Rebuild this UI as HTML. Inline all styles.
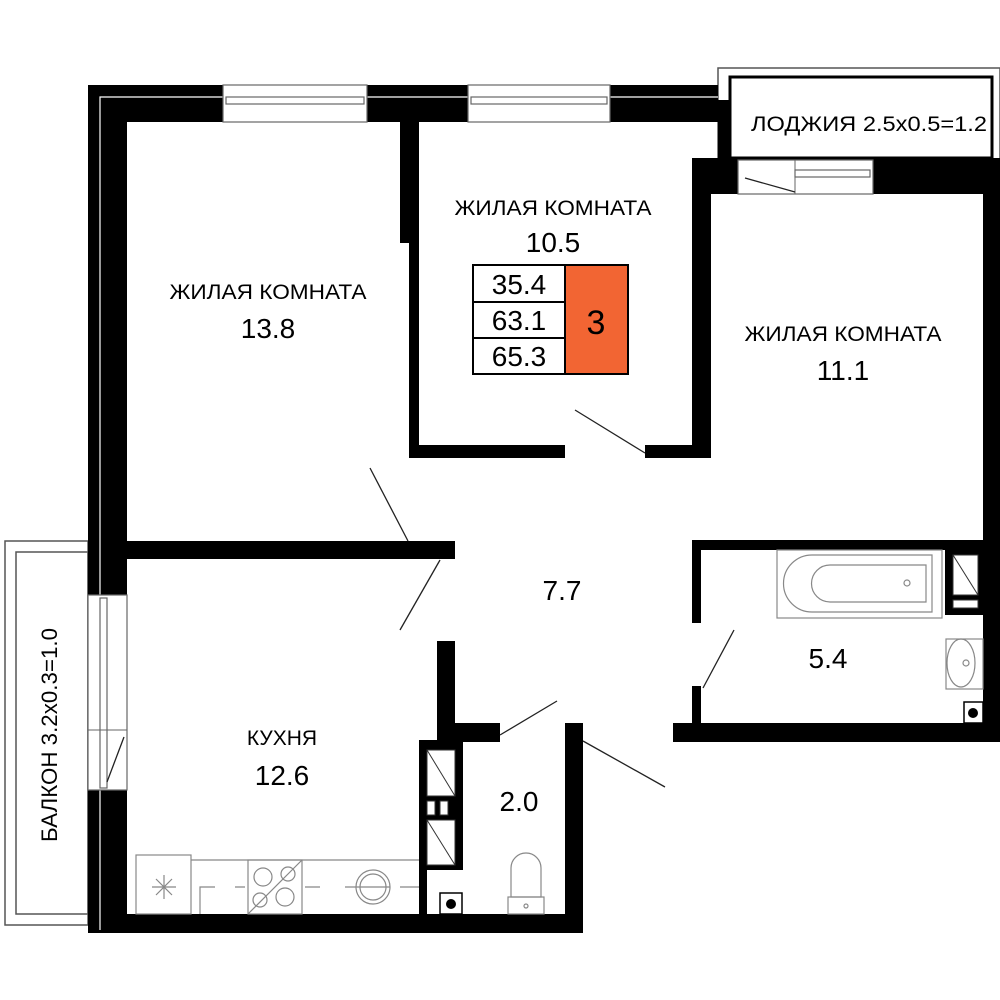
<!DOCTYPE html>
<html><head><meta charset="utf-8"><style>html,body{margin:0;padding:0;background:#fff}svg{display:block}</style></head>
<body>
<svg width="1000" height="1000" viewBox="0 0 1000 1000" xmlns="http://www.w3.org/2000/svg" font-family="Liberation Sans, sans-serif">
<rect width="1000" height="1000" fill="#fff"/>
<!-- loggia -->
<rect x="718" y="68" width="282" height="92" fill="none" stroke="#555" stroke-width="1.5"/>
<rect x="730" y="77" width="262" height="81" fill="none" stroke="#000" stroke-width="3"/>
<text x="869" y="131" font-size="21" text-anchor="middle" textLength="236" lengthAdjust="spacingAndGlyphs">ЛОДЖИЯ 2.5x0.5=1.2</text>
<!-- balcony -->
<rect x="5" y="541" width="83" height="384" fill="none" stroke="#555" stroke-width="1.5"/>
<rect x="16" y="552" width="72" height="362" fill="none" stroke="#555" stroke-width="1.5"/>
<text transform="translate(57,735) rotate(-90)" font-size="22" text-anchor="middle" textLength="214" lengthAdjust="spacingAndGlyphs">БАЛКОН 3.2x0.3=1.0</text>
<g fill="#000">
<rect x="88" y="85" width="135" height="37"/>
<rect x="367" y="85" width="101" height="37"/>
<rect x="610" y="85" width="108" height="37"/>
<rect x="718" y="100" width="12" height="94"/>
<rect x="692" y="158" width="46" height="36"/>
<rect x="873" y="158" width="127" height="36"/>
<rect x="88" y="85" width="39" height="510"/>
<rect x="88" y="790" width="39" height="143"/>
<rect x="400" y="122" width="19" height="121"/>
<rect x="409" y="122" width="10" height="336"/>
<rect x="409" y="445" width="156" height="13"/>
<rect x="645" y="445" width="66" height="13"/>
<rect x="692" y="190" width="19" height="268"/>
<rect x="983" y="172" width="17" height="570"/>
<rect x="127" y="541" width="328" height="18"/>
<rect x="692" y="540" width="308" height="10"/>
<rect x="692" y="540" width="9" height="83"/>
<rect x="692" y="686" width="9" height="40"/>
<rect x="673" y="723" width="327" height="19"/>
<rect x="437" y="641" width="18" height="100"/>
<rect x="437" y="723" width="63" height="19"/>
<rect x="565" y="723" width="18" height="210"/>
<rect x="419" y="740" width="44" height="130"/>
<rect x="419" y="740" width="8" height="193"/>
<rect x="88" y="914" width="495" height="19"/>
<rect x="945" y="550" width="40" height="65"/>
</g>
<path d="M100 930 V97 H718" fill="none" stroke="#fff" stroke-width="1.2"/>
<g fill="#fff" stroke="#666" stroke-width="1.2">
<rect x="223" y="85" width="144" height="37"/>
<rect x="226" y="97" width="138" height="7"/>
<rect x="468" y="85" width="142" height="37"/>
<rect x="471" y="97" width="136" height="7"/>
<rect x="738" y="160" width="135" height="34"/>
<rect x="795" y="170" width="75" height="7"/>
<rect x="88" y="595" width="39" height="195"/>
<rect x="100" y="598" width="7" height="190"/>
</g>
<line x1="795" y1="160" x2="795" y2="194" stroke="#666" stroke-width="1"/>
<line x1="88" y1="730" x2="127" y2="730" stroke="#666" stroke-width="1"/>
<g fill="#fff" stroke="#333" stroke-width="1">
<rect x="427" y="750" width="28" height="46"/>
<rect x="427" y="801" width="8" height="14"/>
<rect x="440" y="801" width="8" height="14"/>
<rect x="427" y="820" width="28" height="45"/>
<rect x="953" y="555" width="25" height="40"/>
<rect x="953" y="600" width="25" height="8"/>
</g>
<g stroke="#333" stroke-width="1">
<line x1="427" y1="750" x2="455" y2="796"/><line x1="427" y1="820" x2="455" y2="865"/>
<line x1="953" y1="555" x2="978" y2="595"/>
</g>
<g stroke="#222" stroke-width="1.3">
<line x1="370" y1="468" x2="408" y2="541"/>
<line x1="440" y1="560" x2="400" y2="630"/>
<line x1="575" y1="410" x2="645" y2="453"/>
<line x1="734" y1="630" x2="703" y2="688"/>
<line x1="500" y1="735" x2="557" y2="701"/>
<line x1="583" y1="741" x2="665" y2="787"/>
<line x1="124" y1="737" x2="107" y2="782"/>
<line x1="745" y1="178" x2="795" y2="192"/>
</g>
<g fill="none" stroke="#888" stroke-width="1.2">
<rect x="777" y="550" width="165" height="68"/>
<path d="M812 555 H932 V612 H812 A28.5 28.5 0 0 1 812 555 Z"/>
<path d="M830 565 H926 V602 H830 A18.5 18.5 0 0 1 830 565 Z"/>
<circle cx="907" cy="583" r="3"/>
<rect x="946" y="639" width="37" height="50"/>
<ellipse cx="961" cy="663" rx="14" ry="24"/>
<circle cx="966" cy="663" r="3"/>
<rect x="136" y="855" width="55" height="59"/>
<path d="M191 860 H419"/>
<rect x="248" y="860" width="54" height="54"/>
<circle cx="263" cy="877" r="9"/><circle cx="288" cy="874" r="7"/>
<circle cx="260" cy="900" r="7"/><circle cx="285" cy="897" r="9"/>
<line x1="248" y1="914" x2="302" y2="860"/>
<circle cx="373" cy="887" r="17"/><circle cx="373" cy="887" r="13"/>
<path d="M200 914 V887 H215 M235 887 H245 M305 887 H320 M345 887 H390 M400 887 H419"/>
<path d="M164 875 V899 M152 887 H176 M156 879 L172 895 M172 879 L156 895"/>
<path d="M511 897 V868 A15 15 0 0 1 541 868 V897 Z"/>
<rect x="508" y="897" width="36" height="17"/>
<circle cx="526" cy="906" r="2"/>
</g>
<g>
<rect x="440" y="893" width="22" height="21" fill="#fff" stroke="#000" stroke-width="1.5"/>
<circle cx="451" cy="904" r="5" fill="#000"/>
<rect x="964" y="702" width="19" height="21" fill="#fff" stroke="#000" stroke-width="1.5"/>
<circle cx="973" cy="713" r="5" fill="#000"/>
</g>
<rect x="565" y="265" width="63" height="109" fill="#f26533"/>
<rect x="473" y="265" width="155" height="109" fill="none" stroke="#000" stroke-width="2"/>
<line x1="565" y1="265" x2="565" y2="374" stroke="#000" stroke-width="2"/>
<line x1="473" y1="302" x2="565" y2="302" stroke="#000" stroke-width="2"/>
<line x1="473" y1="338" x2="565" y2="338" stroke="#000" stroke-width="2"/>
<g font-size="28" text-anchor="middle">
<text x="519" y="294">35.4</text>
<text x="519" y="330">63.1</text>
<text x="519" y="366">65.3</text>
<text x="596" y="334" font-size="34">3</text>
</g>
<g text-anchor="middle">
<text x="268" y="299" font-size="21" textLength="197" lengthAdjust="spacingAndGlyphs">ЖИЛАЯ КОМНАТА</text>
<text x="268" y="338" font-size="28">13.8</text>
<text x="553" y="215" font-size="21" textLength="197" lengthAdjust="spacingAndGlyphs">ЖИЛАЯ КОМНАТА</text>
<text x="553" y="252" font-size="28">10.5</text>
<text x="843" y="341" font-size="21" textLength="197" lengthAdjust="spacingAndGlyphs">ЖИЛАЯ КОМНАТА</text>
<text x="843" y="380" font-size="28">11.1</text>
<text x="562" y="600" font-size="28">7.7</text>
<text x="828" y="668" font-size="28">5.4</text>
<text x="282" y="745" font-size="21">КУХНЯ</text>
<text x="282" y="785" font-size="28">12.6</text>
<text x="519" y="811" font-size="28">2.0</text>
</g>
</svg>
</body></html>
